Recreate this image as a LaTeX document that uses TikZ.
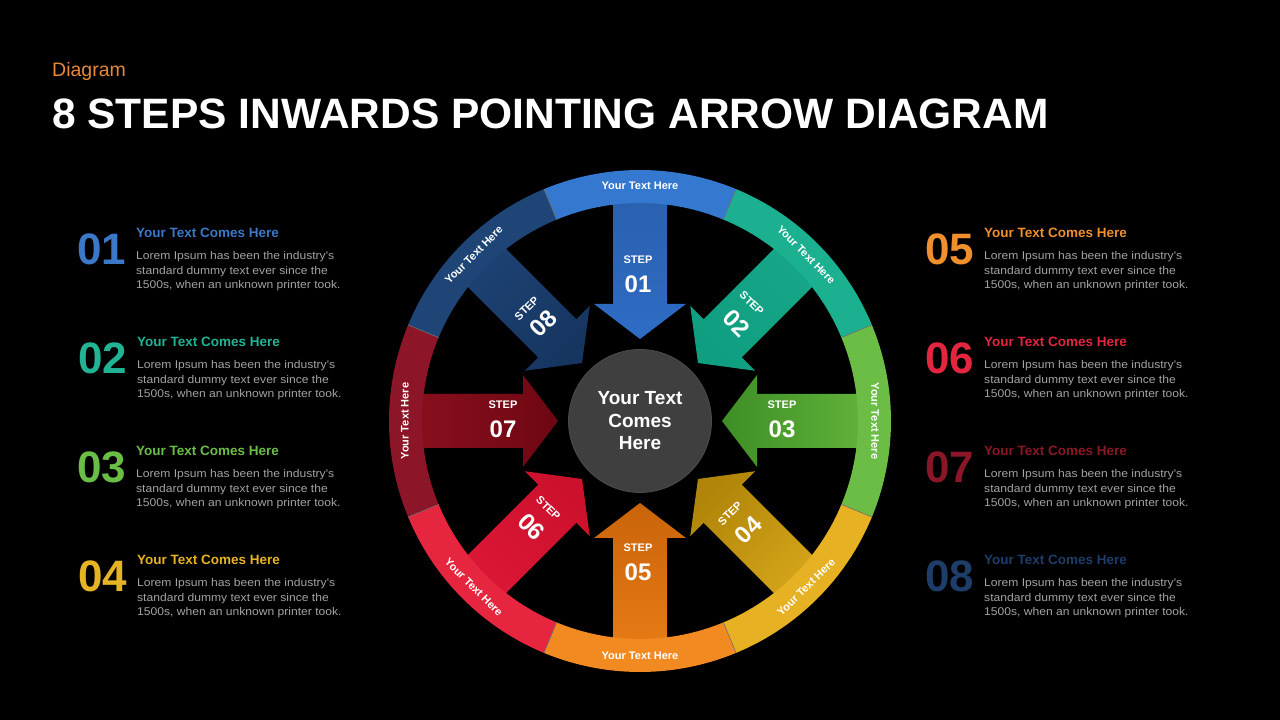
\documentclass[tikz,border=0pt]{standalone}
\usepackage{fontspec}
\setmainfont{Liberation Sans}
\newfontfamily\bodyfont{Liberation Sans}[FakeStretch=1.08]
\usetikzlibrary{calc}
% ring colours
\definecolor{r1}{HTML}{3479CF}
\definecolor{r2}{HTML}{1BB08F}
\definecolor{r3}{HTML}{6CBD45}
\definecolor{r4}{HTML}{E6B223}
\definecolor{r5}{HTML}{F28A22}
\definecolor{r6}{HTML}{E6253F}
\definecolor{r7}{HTML}{8C1527}
\definecolor{r8}{HTML}{1F4577}
% arrow colours (outer / inner)
\definecolor{a1o}{HTML}{2A60AE}
\definecolor{a1i}{HTML}{2E6CC4}
\definecolor{a2o}{HTML}{17A688}
\definecolor{a2i}{HTML}{0F9E80}
\definecolor{a3o}{HTML}{63B33A}
\definecolor{a3i}{HTML}{3E8E27}
\definecolor{a4o}{HTML}{D6A51A}
\definecolor{a4i}{HTML}{B08509}
\definecolor{a5o}{HTML}{E77C16}
\definecolor{a5i}{HTML}{C9640A}
\definecolor{a6o}{HTML}{DC1737}
\definecolor{a6i}{HTML}{CC112C}
\definecolor{a7o}{HTML}{8A0F1E}
\definecolor{a7i}{HTML}{6E0712}
\definecolor{a8o}{HTML}{1D4274}
\definecolor{a8i}{HTML}{163660}
% list colours
\definecolor{n1}{HTML}{3B78C8}
\definecolor{n2}{HTML}{22B395}
\definecolor{n3}{HTML}{6ABE46}
\definecolor{n4}{HTML}{E6B325}
\definecolor{n5}{HTML}{EF8F2E}
\definecolor{n6}{HTML}{E3263F}
\definecolor{n7}{HTML}{8A1727}
\definecolor{n8}{HTML}{1E3D68}
\definecolor{bodygray}{HTML}{A3A3A3}
\definecolor{diagorange}{HTML}{E8883A}
\definecolor{hubgray}{HTML}{3F3F3F}
\definecolor{hubrim}{HTML}{4B4B4B}
\begin{document}
\begin{tikzpicture}[x=1pt,y=1pt,
  ringtxt/.style={text=white, font=\fontsize{11}{13}\selectfont\bfseries, inner sep=0},
  steplbl/.style={text=white, font=\fontsize{11}{12}\selectfont\bfseries, inner sep=0},
  stepnum/.style={text=white, font=\fontsize{24}{26}\selectfont\bfseries, inner sep=0},
  bignum/.style={font=\fontsize{44}{44}\selectfont\bfseries, anchor=base west, inner sep=0},
  headtxt/.style={font=\fontsize{13.5}{15}\selectfont\bfseries, anchor=base west, inner sep=0},
  bodytxt/.style={text=bodygray, font=\bodyfont\fontsize{11.2}{14.4}\selectfont, anchor=north west, inner sep=0, align=left},
  seam/.style={black!55, line width=0.6pt}
]
\useasboundingbox (0,0) rectangle (1280,720);
\fill[black] (0,0) rectangle (1280,720);

% header
\node[anchor=base west, text=diagorange, font=\fontsize{19.5}{20}\selectfont, inner sep=0] (sub) at (52,643) {Diagram};
\node[anchor=base west, text=white, font=\fontsize{42.5}{43}\selectfont\bfseries, inner sep=0] (title) at (52,591) {8 STEPS INWARDS POINTING ARROW DIAGRAM};

% side lists
\foreach \n/\col/\x/\y in {01/n1/77/455, 02/n2/78/346, 03/n3/77/237, 04/n4/78/128,
                           05/n5/925/455, 06/n6/925/346, 07/n7/925/237, 08/n8/925/128} {
  \node[bignum, text=\col] (num\n) at (\x,\y) {\n};
  \node[headtxt, text=\col] (head\n) at (\x+59,\y+27) {Your Text Comes Here};
  \node[bodytxt] (body\n) at (\x+59,\y+13.4) {Lorem Ipsum has been the industry's\\standard dummy text ever since the\\1500s, when an unknown printer took.};
}

\begin{scope}[shift={(640,299)}]
  % arrows
  \foreach \a/\oc/\ic in {90/a1o/a1i, 45/a2o/a2i, 0/a3o/a3i, -45/a4o/a4i,
                          -90/a5o/a5i, -135/a6o/a6i, 180/a7o/a7i, 135/a8o/a8i} {
    \pgfmathsetmacro{\sa}{\a-90}
    \shade[top color=\oc, bottom color=\ic, shading angle=\sa]
      ($(\a:232)+(\a+90:27)$) -- ($(\a:117)+(\a+90:27)$) -- ($(\a:117)+(\a+90:46)$)
      -- (\a:82) -- ($(\a:117)+(\a-90:46)$) -- ($(\a:117)+(\a-90:27)$)
      -- ($(\a:232)+(\a-90:27)$) -- cycle;
  }
  % ring segments
  \foreach \a/\rc in {90/r1, 45/r2, 0/r3, -45/r4, -90/r5, -135/r6, 180/r7, 135/r8} {
    \fill[\rc] (\a-22.5:251) arc[start angle=\a-22.5, end angle=\a+22.5, radius=251]
      -- (\a+22.5:218) arc[start angle=\a+22.5, end angle=\a-22.5, radius=218] -- cycle;
  }
  \foreach \a in {67.5,22.5,-22.5,-67.5,-112.5,-157.5,157.5,112.5} {
    \draw[seam] (\a:218) -- (\a:251);
  }
  \foreach \a/\rot/\k in {90/0/1, 45/-45/2, 0/-90/3, -45/45/4,
                          -90/0/5, -135/-45/6, 180/90/7, 135/45/8} {
    \node[ringtxt, rotate=\rot] (ring\k) at (\a:235) {Your Text Here};
  }
  % step labels
  \node[steplbl] (stepa1) at (-2,161) {STEP};
  \node[stepnum] (stepn1) at (-2,137) {01};
  \node[steplbl, rotate=-45] (stepa2) at (111.7,117.7) {STEP};
  \node[stepnum, rotate=-45] (stepn2) at (96.7,97.7) {02};
  \node[steplbl] (stepa3) at (142,16) {STEP};
  \node[stepnum] (stepn3) at (142,-8) {03};
  \node[steplbl, rotate=45] (stepa4) at (90,-92.3) {STEP};
  \node[stepnum, rotate=45] (stepn4) at (108.3,-109) {04};
  \node[steplbl] (stepa5) at (-2,-127) {STEP};
  \node[stepnum] (stepn5) at (-2,-151) {05};
  \node[steplbl, rotate=-45] (stepa6) at (-91.7,-87.3) {STEP};
  \node[stepnum, rotate=-45] (stepn6) at (-108.3,-105.7) {06};
  \node[steplbl] (stepa7) at (-137,16) {STEP};
  \node[stepnum] (stepn7) at (-137,-8) {07};
  \node[steplbl, rotate=45] (stepa8) at (-113.3,112.7) {STEP};
  \node[stepnum, rotate=45] (stepn8) at (-96.7,97.7) {08};
  % hub
  \node[circle, minimum size=143pt, inner sep=0, fill=hubgray, draw=hubrim, line width=0.8pt] (hub) at (0,0) {};
  \node[text=white, align=center, font=\fontsize{19}{22.5}\selectfont\bfseries, inner sep=0] (hubtxt) at (0,0) {Your Text\\Comes\\Here};
\end{scope}
\end{tikzpicture}
\end{document}
